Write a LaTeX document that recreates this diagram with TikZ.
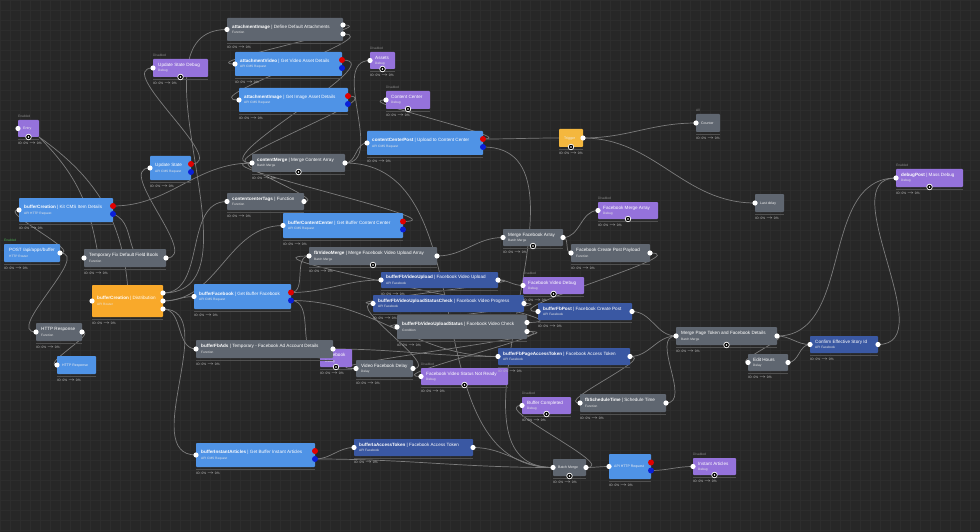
\documentclass[tikz,border=0pt]{standalone}
\usepackage{fontspec}
\setmainfont{Liberation Sans}
\usetikzlibrary{calc}
\definecolor{bgc}{HTML}{272727}
\definecolor{gridc}{HTML}{2D2D2D}
\definecolor{cgray}{HTML}{5F6670}
\definecolor{clblue}{HTML}{4F93E6}
\definecolor{cdblue}{HTML}{3A58A3}
\definecolor{cpurple}{HTML}{9572DB}
\definecolor{corange}{HTML}{F9A92A}
\definecolor{cyellow}{HTML}{F4B73E}
\definecolor{wirec}{HTML}{7C7C7C}
\definecolor{sepc}{HTML}{505050}
\definecolor{statc}{HTML}{C4C4C4}
\definecolor{labc}{HTML}{8A8A8A}
\definecolor{labg}{HTML}{4CAF50}
\definecolor{predc}{HTML}{E00000}
\definecolor{pbluec}{HTML}{0A1FD8}
\pgfdeclarelayer{back}\pgfdeclarelayer{wires}\pgfsetlayers{back,wires,main}
\tikzset{
 nb/.style={rectangle, rounded corners=0.8pt, inner sep=0, outer sep=0, anchor=north west},
 ttl/.style={inner sep=0, anchor=base west, text=white, font=\fontsize{4.6}{5}\selectfont},
 ttlc/.style={inner sep=0, anchor=base west, text=white!88!gray, font=\fontsize{3.5}{4}\selectfont},
 sbt/.style={inner sep=0, anchor=base west, text=white!82!gray, font=\fontsize{3.2}{3.6}\selectfont},
 stat/.style={inner sep=0, anchor=north west, text=statc, font=\fontsize{3.3}{3.6}\selectfont},
 lab/.style={inner sep=0, anchor=south west, font=\fontsize{3.3}{3.6}\selectfont},
 sepl/.style={draw=sepc, line width=0.9pt},
 port/.style={circle, fill=white, inner sep=0, minimum size=5.2pt},
 rport/.style={circle, fill=predc, inner sep=0, minimum size=6pt},
 bport/.style={circle, fill=pbluec, inner sep=0, minimum size=6pt},
 tgt/.style={circle, fill=black, draw=white, line width=0.7pt, inner sep=0, minimum size=5.6pt,
   path picture={\fill[white] (path picture bounding box.center) circle (0.9pt);}},
 wire/.style={draw=wirec, line width=0.7pt},
}
\newcommand\wnode[9]{%
 \node[nb, fill=#6, minimum width=#4pt, minimum height=#5pt] (#1) at (#2,#3) {};
 \node[ttl] (#1t) at ([xshift=5pt,yshift=1.2pt]#1.west) {\textbf{#7}#8};
 \node[sbt] (#1s) at ([xshift=5pt,yshift=-4pt]#1.west) {#9};
 \draw[sepl] ([yshift=-2pt]#1.south west) -- ([yshift=-2pt]#1.south east);
 \node[stat] (#1io) at ([yshift=-5pt]#1.south west) {IO: 0\% $\rightarrow$ 0\%};
}
\newcommand\wnodec[7]{%
 \node[nb, fill=#6, minimum width=#4pt, minimum height=#5pt] (#1) at (#2,#3) {};
 \node[ttlc] (#1t) at ([xshift=5pt,yshift=-1.2pt]#1.west) {#7};
 \draw[sepl] ([yshift=-2pt]#1.south west) -- ([yshift=-2pt]#1.south east);
 \node[stat] (#1io) at ([yshift=-5pt]#1.south west) {IO: 0\% $\rightarrow$ 0\%};
}
\newcommand\pin[1]{\node[port] (#1i) at (#1.west) {};}
\newcommand\pout[1]{\node[port] (#1o) at (#1.east) {};}
\newcommand\pouttwo[1]{\node[port] (#1o1) at ([yshift=4.5pt]#1.east) {};\node[port] (#1o2) at ([yshift=-4.5pt]#1.east) {};}
\newcommand\poutthree[1]{\node[port] (#1o1) at ([yshift=8pt]#1.east) {};\node[port] (#1o2) at (#1.east) {};\node[port] (#1o3) at ([yshift=-8pt]#1.east) {};}
\newcommand\prb[1]{\node[rport] (#1r) at ([yshift=4pt]#1.east) {};\node[bport] (#1b) at ([yshift=-4pt]#1.east) {};}
\newcommand\ptgt[1]{\node[tgt] (#1g) at (#1.south) {};}
\newcommand\wlab[3]{\node[lab, text=#3] (#1l) at ([yshift=1.8pt]#1.north west) {#2};}
\newcommand\wire[2]{\draw[wire] (#1.center) to[out=0,in=180] (#2.center);}
\begin{document}
\begin{tikzpicture}[x=1pt,y=-1pt]
\useasboundingbox (0,0) rectangle (980,532);
\begin{pgfonlayer}{back}
\fill[bgc] (0,0) rectangle (980,532);
\foreach \i in {0,10,...,980} \draw[gridc, line width=0.4pt] (\i,0) -- (\i,532);
\foreach \j in {0,10,...,530} \draw[gridc, line width=0.4pt] (0,\j) -- (980,\j);
\end{pgfonlayer}

% ---- nodes ----
\wnode{attDef}{227}{18}{116}{23}{cgray}{attachmentImage}{ | Define Default Attachments}{Function}
\pin{attDef}\pouttwo{attDef}
\wnode{attVid}{235}{52}{107}{24}{clblue}{attachmentVideo}{ | Get Video Asset Details}{API CMS Request}
\pin{attVid}\prb{attVid}
\wnode{attImg}{239}{88}{109}{24}{clblue}{attachmentImage}{ | Get Image Asset Details}{API CMS Request}
\pin{attImg}\prb{attImg}
\wnode{usDbg}{153}{59}{55}{18}{cpurple}{}{Update State Debug}{Debug}
\pin{usDbg}\ptgt{usDbg}\wlab{usDbg}{Disabled}{labc}
\wnode{ustate}{150}{156}{41}{24}{clblue}{}{Update State}{API CMS Request}
\pin{ustate}\prb{ustate}
\wnodec{dbg1}{18}{120}{21}{17}{cpurple}{Entry}
\pin{dbg1}\ptgt{dbg1}\wlab{dbg1}{Enabled}{labc}
\wnode{bcApi}{19}{198}{94}{24}{clblue}{bufferCreation}{ | Kit CMS Item Details}{API HTTP Request}
\pin{bcApi}\prb{bcApi}
\wnode{post}{4}{244}{56}{18}{clblue}{}{POST /api/apps/buffer}{HTTP Router}
\pout{post}\wlab{post}{Enabled}{labg}
\wnode{tmpFix}{84}{249}{82}{18}{cgray}{}{Temporary Fix Default Field Bools}{Function}
\pin{tmpFix}\pout{tmpFix}
\wnode{dist}{92}{285}{71}{32}{corange}{bufferCreation}{ | Distribution}{API Router}
\pin{dist}\poutthree{dist}
\wnode{httpF}{36}{323}{46}{18}{cgray}{}{HTTP Response}{Function}
\pin{httpF}\pout{httpF}
\wnodec{httpR}{57}{356}{39}{18}{clblue}{HTTP Response}
\pin{httpR}
\wnode{cMerge}{252}{154}{93}{18}{cgray}{contentMerge}{ | Merge Content Array}{Batch Merge}
\pin{cMerge}\pout{cMerge}\ptgt{cMerge}
\wnode{ccTags}{227}{193}{77}{17}{cgray}{contentcenterTags}{ | Function}{Function}
\pin{ccTags}\pout{ccTags}
\wnode{bCC}{283}{213}{120}{25}{clblue}{bufferContentCenter}{ | Get Buffer Content Center}{API CMS Request}
\pin{bCC}\prb{bCC}
\wnode{fbvMerge}{309}{247}{128}{18}{cgray}{fbVideoMerge}{ | Merge Facebook Video Upload Array}{Batch Merge}
\pin{fbvMerge}\pout{fbvMerge}\ptgt{fbvMerge}
\wnode{bFB}{194}{284}{97}{25}{clblue}{bufferFacebook}{ | Get Buffer Facebook}{API CMS Request}
\pin{bFB}\prb{bFB}
\wnode{fbDbg}{320}{349}{32}{18}{cpurple}{}{Facebook}{Debug}
\coordinate (fbDbgi) at (fbDbg.west);\ptgt{fbDbg}
\wnode{bFbAds}{196}{340}{137}{18}{cgray}{bufferFbAds}{ | Temporary - Facebook Ad Account Details}{Function}
\pin{bFbAds}\pout{bFbAds}
\wnode{vDelay}{356}{360}{57}{17}{cgray}{}{Video Facebook Delay}{Delay}
\pin{vDelay}\pout{vDelay}
\wnode{notReady}{421}{368}{87}{17}{cpurple}{}{Facebook Video Status Not Ready}{Debug}
\pin{notReady}\ptgt{notReady}\wlab{notReady}{Disabled}{labc}
\wnode{fbvUp}{381}{272}{117}{16}{cdblue}{bufferFbVideoUpload}{ | Facebook Video Upload}{API Facebook}
\pin{fbvUp}\pout{fbvUp}
\wnode{fbvCheck}{373}{295}{151}{17}{cdblue}{bufferFbVideoUploadStatusCheck}{ | Facebook Video Progress}{API Facebook}
\pin{fbvCheck}\pout{fbvCheck}
\wnode{fbvStatus}{397}{315}{130}{24}{cgray}{bufferFbVideoUploadStatus}{ | Facebook Video Check}{Condition}
\pin{fbvStatus}\pouttwo{fbvStatus}
\wnode{mFbArr}{503}{229}{60}{17}{cgray}{}{Merge Facebook Array}{Batch Merge}
\pin{mFbArr}\pout{mFbArr}\ptgt{mFbArr}
\wnode{fbvDbg}{523}{277}{61}{17}{cpurple}{}{Facebook Video Debug}{Debug}
\pin{fbvDbg}\ptgt{fbvDbg}\wlab{fbvDbg}{Disabled}{labc}
\wnode{fbMrgDbg}{598}{202}{60}{17}{cpurple}{}{Facebook Merge Array}{Debug}
\pin{fbMrgDbg}\ptgt{fbMrgDbg}\wlab{fbMrgDbg}{Disabled}{labc}
\wnode{fbPayload}{571}{244}{79}{18}{cgray}{}{Facebook Create Post Payload}{Function}
\pin{fbPayload}\pout{fbPayload}
\wnode{fbPost}{538}{303}{94}{17}{cdblue}{bufferFbPost}{ | Facebook Create Post}{API Facebook}
\pin{fbPost}\pout{fbPost}
\wnode{fbPAT}{498}{348}{132}{17}{cdblue}{bufferFbPageAccessToken}{ | Facebook Access Token}{API Facebook}
\pin{fbPAT}\pout{fbPAT}
\wnode{mPage}{676}{327}{101}{18}{cgray}{}{Merge Page Token and Facebook Details}{Batch Merge}
\pin{mPage}\pout{mPage}\ptgt{mPage}
\wnodec{lastDelay}{755}{194}{29}{18}{cgray}{Last delay}
\pin{lastDelay}
\wnodec{trig}{559}{129}{24}{18}{cyellow}{Trigger}
\coordinate (trigi) at (trig.west);\pout{trig}\ptgt{trig}
\wnodec{counter}{696}{114}{24}{18}{cgray}{Counter}
\pin{counter}\wlab{counter}{All}{labc}
\wnode{dbgPost}{896}{169}{67}{18}{cpurple}{debugPost}{ | Mass Debug}{Debug}
\pin{dbgPost}\ptgt{dbgPost}\wlab{dbgPost}{Enabled}{labc}
\wnode{confirm}{810}{336}{68}{17}{cdblue}{}{Confirm Effective Story Id}{API Facebook}
\pin{confirm}\pout{confirm}
\wnode{editH}{748}{354}{40}{17}{cgray}{}{Edit Hours}{Delay}
\pin{editH}\pout{editH}
\wnode{bufDone}{522}{397}{49}{17}{cpurple}{}{Buffer Completed}{Debug}
\pin{bufDone}\ptgt{bufDone}\wlab{bufDone}{Disabled}{labc}
\wnode{fbSched}{580}{394}{86}{18}{cgray}{fbScheduleTime}{ | Schedule Time}{Function}
\pin{fbSched}\pout{fbSched}
\wnode{bIA}{196}{443}{119}{24}{clblue}{bufferInstantArticles}{ | Get Buffer Instant Articles}{API CMS Request}
\pin{bIA}\prb{bIA}
\wnode{bIaTok}{354}{439}{119}{17}{cdblue}{bufferIaAccessToken}{ | Facebook Access Token}{API Facebook}
\pin{bIaTok}\pout{bIaTok}
\wnodec{bMerge}{553}{459}{33}{17}{cgray}{Batch Merge}
\pin{bMerge}\pout{bMerge}\ptgt{bMerge}
\wnodec{apiResp}{609}{454}{42}{25}{clblue}{API HTTP Request}
\pin{apiResp}\prb{apiResp}
\wnode{iaDbg}{693}{458}{43}{17}{cpurple}{}{Instant Articles}{Debug}
\pin{iaDbg}\ptgt{iaDbg}\wlab{iaDbg}{Disabled}{labc}
\wnode{assets}{370}{52}{25}{17}{cpurple}{}{Assets}{Debug}
\pin{assets}\ptgt{assets}\wlab{assets}{Disabled}{labc}
\wnode{ccDbg}{386}{91}{44}{18}{cpurple}{}{Content Center}{Debug}
\pin{ccDbg}\ptgt{ccDbg}\wlab{ccDbg}{Disabled}{labc}
\wnode{ccPost}{367}{131}{116}{24}{clblue}{contentCenterPost}{ | Upload to Content Center}{API CMS Request}
\pin{ccPost}\prb{ccPost}
\coordinate (tmpTop) at ([xshift=13pt]tmpFix.north west);
\coordinate (tmpTop2) at ([xshift=49pt]tmpFix.north west);

% ---- wires ----
\begin{pgfonlayer}{wires}
\wire{posto}{bcApii}
\wire{posto}{httpFi}
\wire{httpFo}{httpRi}
\draw[wire] (dbg1.south east) to[out=-45,in=100] (tmpTop);
\draw[wire] (dbg1.south east) to[out=-35,in=95] (dist.north);
\draw[wire] (bcApib.center) to[out=-20,in=110] (tmpTop2);
\wire{bcApir}{cMergei}
\wire{tmpFixo}{ustatei}
\wire{disto1}{attDefi}
\wire{disto1}{ccTagsi}
\wire{disto2}{bFBi}
\wire{disto2}{bCCi}
\wire{disto3}{bFbAdsi}
\wire{disto3}{bIAi}
\wire{ustater}{usDbgi}
\wire{attDefo1}{attVidi}
\wire{attDefo2}{attImgi}
\wire{attVidr}{cMergei}
\wire{attImgr}{cMergei}
\wire{ccTagso}{cMergei}
\wire{bCCr}{cMergei}
\wire{cMergeo}{assetsi}
\wire{cMergeo}{ccPosti}
\wire{cMergeo}{bMergei}
\wire{ccPostr}{ccDbgi}
\wire{ccPostr}{trigi}
\wire{trigo}{counteri}
\wire{trigo}{lastDelayi}
\wire{ccPostb}{bMergei}
\wire{bFBr}{fbvMergei}
\wire{bFBr}{fbvUpi}
\wire{bFBb}{fbDbgi}
\wire{bFBb}{fbPATi}
\wire{fbvUpo}{fbvChecki}
\wire{fbvUpo}{fbvDbgi}
\wire{fbvChecko}{fbvStatusi}
\wire{fbvStatuso1}{fbvMergei}
\wire{fbvStatuso2}{vDelayi}
\wire{fbvStatuso2}{notReadyi}
\wire{vDelayo}{fbvChecki}
\wire{fbvMergeo}{mFbArri}
\wire{mFbArro}{fbMrgDbgi}
\wire{mFbArro}{fbPayloadi}
\wire{fbPayloado}{fbPosti}
\wire{fbPosto}{mPagei}
\wire{bFbAdso}{fbPATi}
\wire{fbPATo}{mPagei}
\wire{fbPATo}{fbSchedi}
\wire{fbSchedo}{mPagei}
\wire{mPageo}{dbgPosti}
\wire{mPageo}{confirmi}
\wire{mPageo}{editHi}
\wire{editHo}{confirmi}
\wire{confirmo}{dbgPosti}
\wire{bIAb}{bIaToki}
\wire{bIAb}{bMergei}
\wire{bIaToko}{bMergei}
\wire{bMergeo}{apiRespi}
\wire{bMergeo}{bufDonei}
\wire{apiRespb}{iaDbgi}
\end{pgfonlayer}
\end{tikzpicture}
\end{document}
